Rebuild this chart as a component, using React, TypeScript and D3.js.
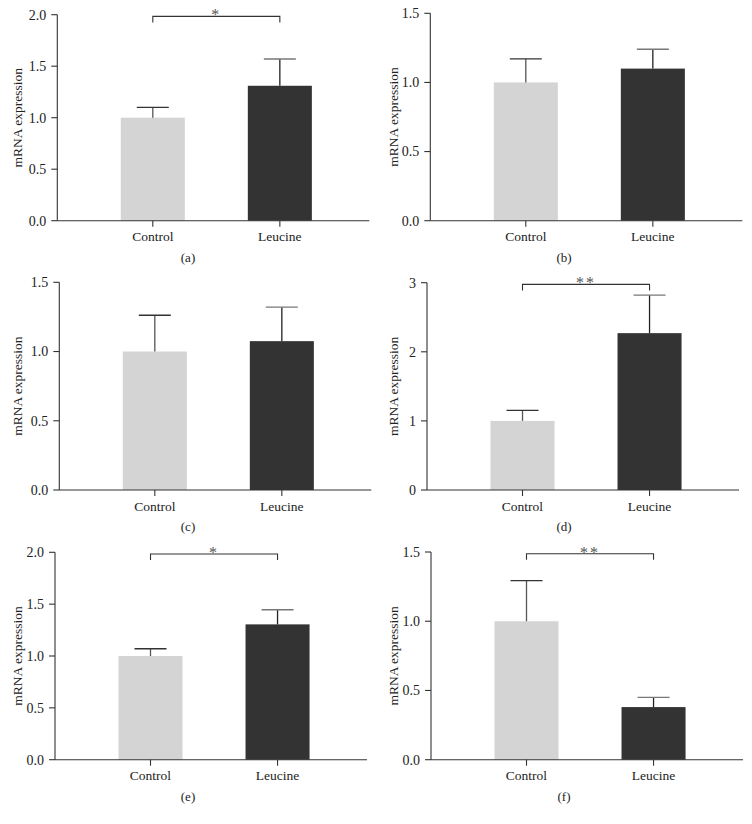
import React from "react";
import * as d3 from "d3";

const categories = ["Control", "Leucine"];
const panelLabels = ["(a)", "(b)", "(c)", "(d)", "(e)", "(f)"];
const means = [
  [1.0, 1.31],
  [1.0, 1.1],
  [1.0, 1.075],
  [1.0, 2.27],
  [1.0, 1.305],
  [1.0, 0.38],
];
const errTops = [
  [1.1, 1.57],
  [1.17, 1.24],
  [1.262, 1.32],
  [1.153, 2.82],
  [1.07, 1.446],
  [1.293, 0.45],
];
const yMax = [2.0, 1.5, 1.5, 3, 2.0, 1.5];
const yTicks = [
  [0, 0.5, 1.0, 1.5, 2.0],
  [0, 0.5, 1.0, 1.5],
  [0, 0.5, 1.0, 1.5],
  [0, 1, 2, 3],
  [0, 0.5, 1.0, 1.5, 2.0],
  [0, 0.5, 1.0, 1.5],
];
const tickFormats = [".1f", ".1f", ".1f", "d", ".1f", ".1f"];
const significance = ["*", "", "", "**", "*", "**"];

// layout per panel (pixel geometry)
const layout = [
  { ox: 0, ax: 57.3, top: 14.7, bottom: 220.7 },
  { ox: 376, ax: 430.3, top: 13.3, bottom: 220.7 },
  { ox: 0, ax: 59.3, top: 282.3, bottom: 490 },
  { ox: 376, ax: 427, top: 282.7, bottom: 490 },
  { ox: 0, ax: 55, top: 552.3, bottom: 759.7 },
  { ox: 376, ax: 431, top: 552, bottom: 759.7 },
];

const AXIS_LEN = 312;
const colors = ["#d4d4d4", "#333333"];
const FONT = "'Liberation Serif', 'Times New Roman', serif";

function Panel({ i }: { i: number }) {
  const L = layout[i];
  const x = d3
    .scaleBand<string>()
    .domain(categories)
    .range([L.ax, L.ax + AXIS_LEN])
    .paddingInner(0.496)
    .paddingOuter(0.476)
    .align(0.525);
  const y = d3.scaleLinear().domain([0, yMax[i]]).range([L.bottom, L.top]);
  const fmt = d3.format(tickFormats[i]);
  const bw = x.bandwidth();
  const cx = (c: string) => (x(c) as number) + bw / 2;
  const sig = significance[i];
  const bracketY = L.top + 1.7;
  return (
    <g>
      {categories.map((c, j) => (
        <rect
          key={c}
          x={x(c)}
          y={y(means[i][j])}
          width={bw}
          height={y(0) - y(means[i][j])}
          fill={colors[j]}
        />
      ))}
      {categories.map((c, j) => (
        <g key={"e" + c}>
          <line
            x1={cx(c)}
            x2={cx(c)}
            y1={y(means[i][j])}
            y2={y(errTops[i][j])}
            stroke={j === 0 ? "#555" : "#222"}
            strokeWidth={1.3}
          />
          <line
            x1={cx(c) - 16}
            x2={cx(c) + 16}
            y1={y(errTops[i][j])}
            y2={y(errTops[i][j])}
            stroke={j === 0 ? "#333" : "#777"}
            strokeWidth={1.3}
          />
        </g>
      ))}
      <line x1={L.ax} x2={L.ax} y1={L.top} y2={L.bottom} stroke="#333" strokeWidth={1.1} />
      {yTicks[i].map((t) => (
        <g key={"t" + t}>
          <line x1={L.ax - 6} x2={L.ax} y1={y(t)} y2={y(t)} stroke="#333" strokeWidth={1.1} />
          <text
            x={L.ax - 11}
            y={y(t)}
            dy="0.35em"
            textAnchor="end"
            fontSize={14}
            fontFamily={FONT}
            fill="#222"
          >
            {fmt(t)}
          </text>
        </g>
      ))}
      <line x1={L.ax} x2={L.ax + AXIS_LEN} y1={L.bottom} y2={L.bottom} stroke="#333" strokeWidth={1.1} />
      {categories.map((c) => (
        <g key={"x" + c}>
          <line x1={cx(c)} x2={cx(c)} y1={L.bottom} y2={L.bottom + 6} stroke="#333" strokeWidth={1.1} />
          <text
            x={cx(c)}
            y={L.bottom + 20.5}
            textAnchor="middle"
            fontSize={13.5}
            fontFamily={FONT}
            fill="#222"
          >
            {c}
          </text>
        </g>
      ))}
      <text
        transform={`translate(${L.ox + 21.5},${(L.top + L.bottom) / 2}) rotate(-90)`}
        textAnchor="middle"
        fontSize={13.5}
        fontFamily={FONT}
        fill="#222"
      >
        mRNA expression
      </text>
      <text
        x={L.ox + 188}
        y={L.bottom + 41}
        textAnchor="middle"
        fontSize={13}
        fontFamily={FONT}
        fill="#222"
      >
        {panelLabels[i]}
      </text>
      {sig && (
        <g>
          <path
            d={`M${cx(categories[0])},${bracketY + 6}V${bracketY}H${cx(categories[1])}V${bracketY + 6}`}
            fill="none"
            stroke="#333"
            strokeWidth={1.1}
          />
          <text
            x={(cx(categories[0]) + cx(categories[1])) / 2}
            y={bracketY + 4}
            textAnchor="middle"
            fontSize={16}
            fontFamily={FONT}
            fill="#555"
            letterSpacing={2}
          >
            {sig}
          </text>
        </g>
      )}
    </g>
  );
}

export default function App() {
  return (
    <svg
      width={752}
      height={824}
      style={{ position: "absolute", left: 0, top: 0, background: "#fff" }}
    >
      <rect width={752} height={824} fill="#fff" />
      {layout.map((_, i) => (
        <Panel key={i} i={i} />
      ))}
    </svg>
  );
}
